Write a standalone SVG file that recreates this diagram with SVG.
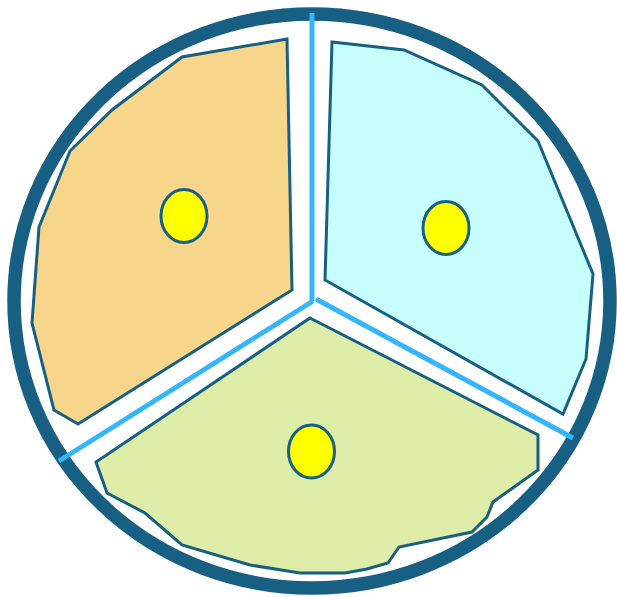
<svg xmlns="http://www.w3.org/2000/svg" width="617" height="597" viewBox="0 0 617 597">
<style>
.rim{fill:none;stroke:#175f83;stroke-width:13.5}
.zone{stroke:#175f83;stroke-width:3;stroke-linejoin:miter}
.dot{fill:#ffff00;stroke:#175f83;stroke-width:3}
.div{stroke:#33b5ff;stroke-width:5;stroke-linecap:butt;fill:none}
</style>
<rect width="617" height="597" fill="#ffffff"/>
<ellipse class="rim" cx="312" cy="301" rx="298" ry="287"/>
<g id="zone-orange">
<polygon class="zone" fill="#f7d68b" points="287,39 182,57 112,110 70,151 39,227 32,323 54,410 78,424 292,290"/>
<ellipse class="dot" cx="184" cy="216" rx="23" ry="26.5"/>
</g>
<g id="zone-cyan">
<polygon class="zone" fill="#c7fffe" points="332,42 404,50 482,85 538,141 593,274 586,359 563,414 325,280"/>
<ellipse class="dot" cx="446" cy="228" rx="23" ry="26.5"/>
</g>
<g id="zone-green">
<polygon class="zone" fill="#ddeda8" points="310,318 538,435 538,470 493,502 487,517 472,532 399,547 388,563 367,569 345,573 300,573 250,565 182,545 145,513 107,493 96,462"/>
<ellipse class="dot" cx="311.5" cy="451.5" rx="23" ry="26.5"/>
</g>
<g id="dividers">
<line class="div" x1="312" y1="13" x2="312" y2="301"/>
<line class="div" x1="313" y1="301" x2="59" y2="461"/>
<line class="div" x1="316" y1="299" x2="573" y2="438"/>
</g>
</svg>
